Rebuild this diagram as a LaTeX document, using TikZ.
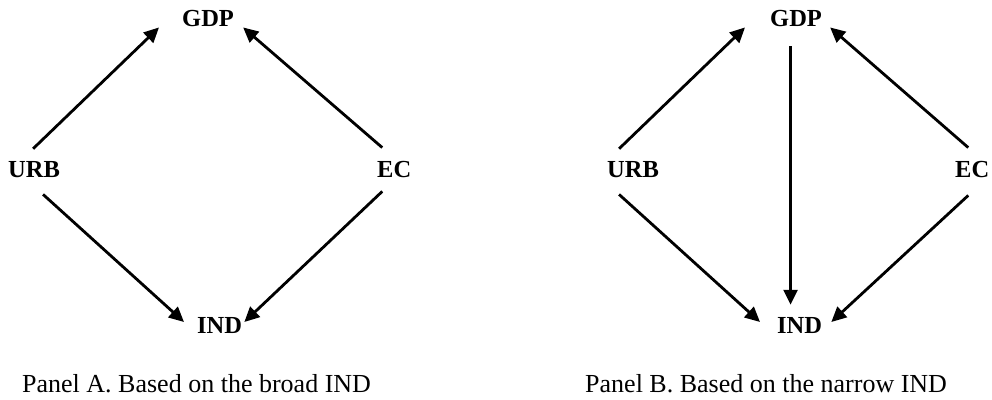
\documentclass[tikz,border=0pt]{standalone}
\usepackage{fontspec}
\setmainfont{Liberation Serif}
\usetikzlibrary{arrows.meta}
\begin{document}
\begin{tikzpicture}[x=1pt,y=1pt,
  lab/.style={anchor=base west,inner sep=0pt,font=\fontsize{24.5}{26}\selectfont\bfseries},
  captext/.style={anchor=base west,inner sep=0pt,font=\fontsize{26}{28}\selectfont},
  arr/.style={line width=2.8pt,-{Triangle[length=15pt,width=14pt]}}]
\useasboundingbox (0,0) rectangle (992,399);
% Panel A
\node[lab] (ga) at (182,372) {GDP};
\node[lab] (ua) at (8,221) {URB};
\node[lab] (ea) at (377,221) {EC};
\node[lab] (ia) at (197,66) {IND};
\node[captext] (ca) at (22,7) {Panel A. Based on the broad IND};
\draw[arr] ([shift={(-1,13)}]ua.north) -- ([shift={(-23,0)}]ga.south west);
\draw[arr] ([shift={(-12,14)}]ea.north) -- ([shift={(9,0)}]ga.south east);
\draw[arr] ([shift={(9,-16)}]ua.south) -- ([shift={(-13,3)}]ia.west);
\draw[arr] ([shift={(-12,-13)}]ea.south) -- ([shift={(2,3)}]ia.east);
% Panel B
\node[lab] (gb) at (770,372) {GDP};
\node[lab] (ub) at (607,221) {URB};
\node[lab] (eb) at (955,221) {EC};
\node[lab] (ib) at (777,66) {IND};
\node[captext] (cb) at (585,7) {Panel B. Based on the narrow IND};
\draw[arr] ([shift={(-14,13)}]ub.north) -- ([shift={(-25,0)}]gb.south west);
\draw[arr] ([shift={(-4,14)}]eb.north) -- ([shift={(8,0)}]gb.south east);
\draw[arr] ([shift={(-5.5,-19)}]gb.south) -- ([shift={(-5.5,12)}]gb.south |- ib.north);
\draw[arr] ([shift={(-14,-16)}]ub.south) -- ([shift={(-17,3)}]ib.west);
\draw[arr] ([shift={(-4,-17)}]eb.south) -- ([shift={(9,3)}]ib.east);
\end{tikzpicture}
\end{document}
